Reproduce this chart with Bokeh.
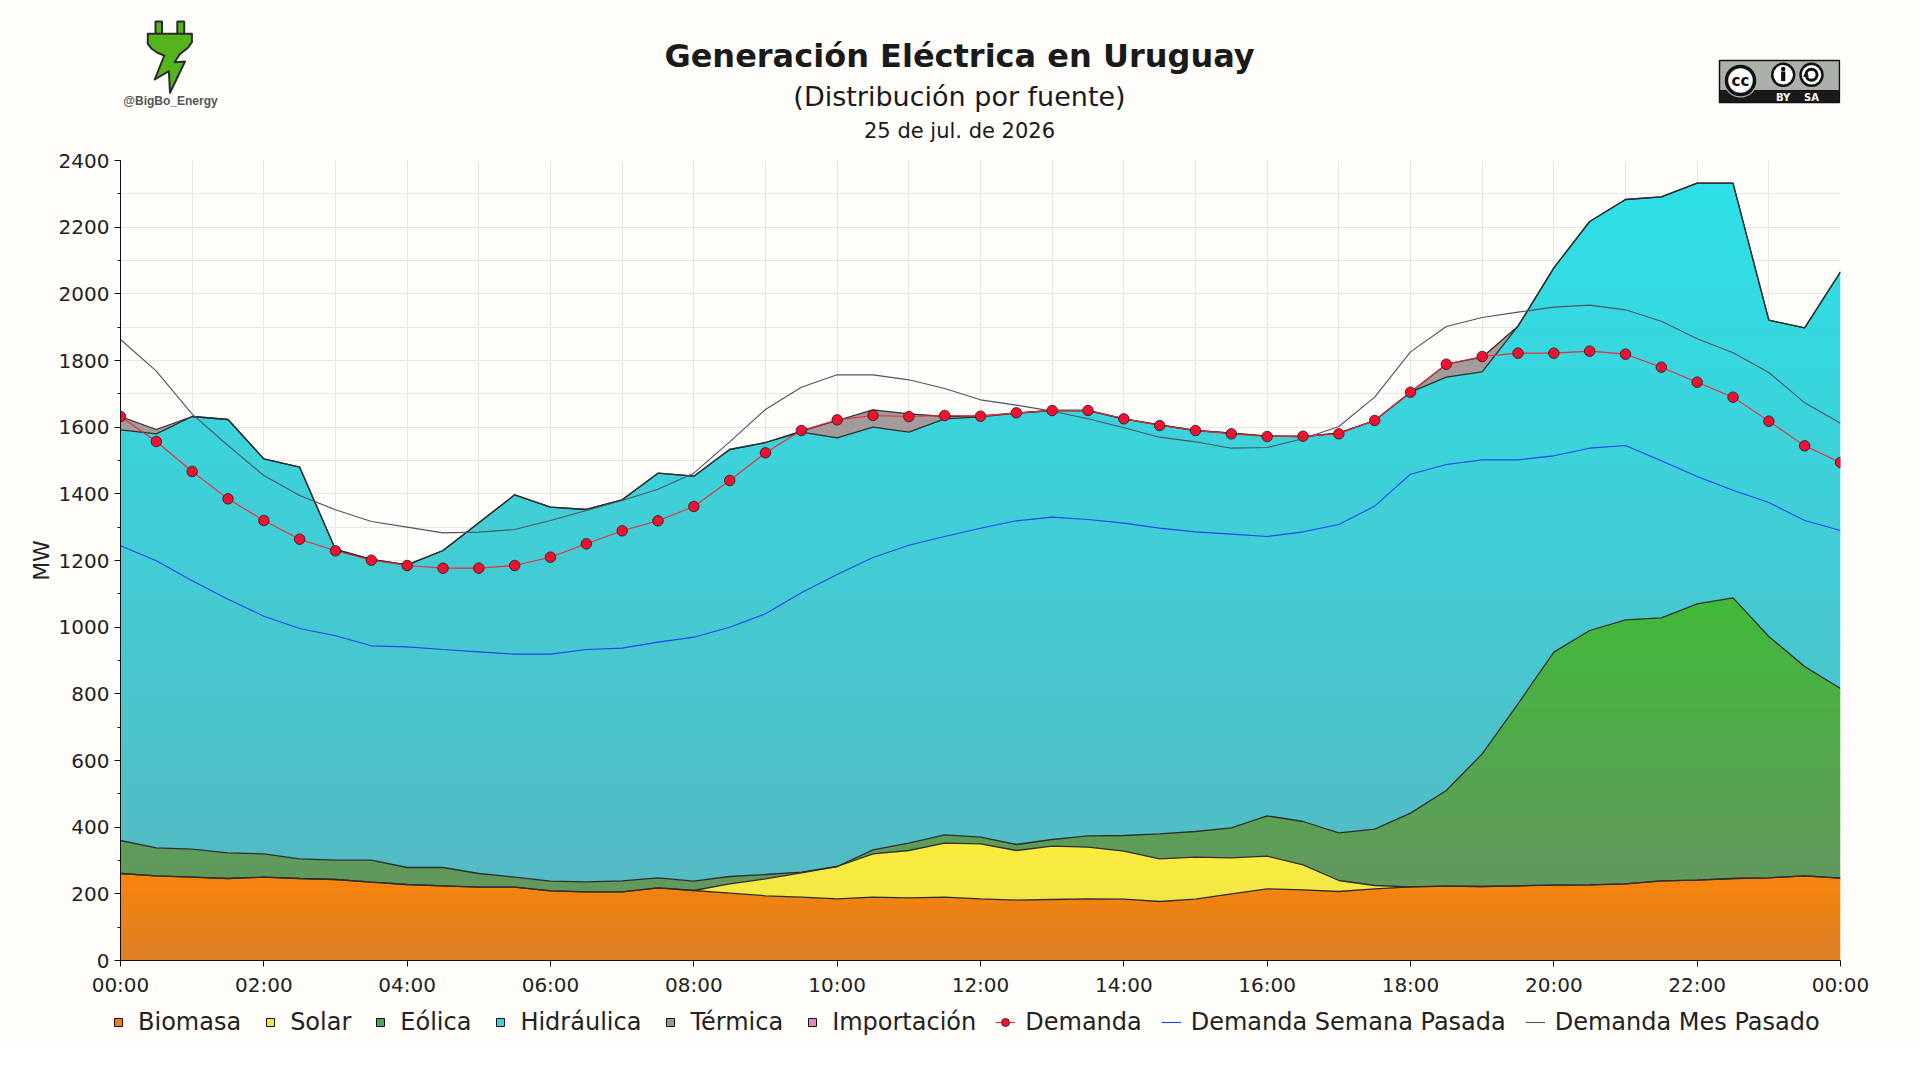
import numpy as np
from bokeh.plotting import figure
from bokeh.layouts import column, row
from bokeh.models import Range1d, FixedTicker, Legend, LegendItem
from bokeh.core.properties import value
from bokeh.embed import file_html
from bokeh.resources import INLINE

# ---------------- data (MW, every 30 min) ----------------
horas = ["00:00", "00:30", "01:00", "01:30", "02:00", "02:30", "03:00", "03:30",
         "04:00", "04:30", "05:00", "05:30", "06:00", "06:30", "07:00", "07:30",
         "08:00", "08:30", "09:00", "09:30", "10:00", "10:30", "11:00", "11:30",
         "12:00", "12:30", "13:00", "13:30", "14:00", "14:30", "15:00", "15:30",
         "16:00", "16:30", "17:00", "17:30", "18:00", "18:30", "19:00", "19:30",
         "20:00", "20:30", "21:00", "21:30", "22:00", "22:30", "23:00", "23:30",
         "24:00"]

biomasa = [261, 254, 250, 246, 250, 246, 243, 235, 228, 224, 220, 220, 209, 206, 206, 218,
           210, 202, 194, 190, 185, 190, 188, 190, 185, 181, 183, 185, 184, 177, 184, 200,
           215, 212, 207, 215, 221, 223, 222, 224, 226, 227, 230, 239, 241, 246, 248, 254, 247]
solar = [0, 0, 0, 0, 0, 0, 0, 0, 0, 0, 0, 0, 0, 0, 0, 0,
         0, 28, 51, 73, 97, 130, 142, 162, 165, 149, 160, 155, 144, 128, 126, 108,
         98, 75, 33, 10, 0, 0, 0, 0, 0, 0, 0, 0, 0, 0, 0, 0, 0]
eolica = [99, 84, 84, 77, 70, 59, 58, 66, 51, 55, 41, 30, 29, 30, 33, 30,
          28, 22, 13, 2, 0, 12, 22, 25, 20, 18, 20, 34, 47, 75, 77, 90,
          121, 130, 143, 169, 221, 287, 398, 546, 699, 763, 792, 789, 829, 842, 724, 628, 569]
hidraulica = [1232, 1242, 1298, 1300, 1185, 1175, 932, 902, 908, 951, 1052, 1147, 1122, 1117, 1143, 1214,
              1215, 1281, 1296, 1320, 1286, 1268, 1233, 1248, 1261, 1294, 1287, 1276, 1250, 1227, 1203, 1184,
              1139, 1155, 1199, 1226, 1263, 1240, 1146, 1133, 1153, 1227, 1261, 1263, 1262, 1244, 949, 1016, 1250]
termica = [40, 13, 0, 0, 0, 0, 0, 0, 0, 0, 0, 0, 0, 0, 0, 0,
           0, 0, 0, 3, 52, 52, 55, 7, 3, 0, 0, 0, 0, 0, 0, 0,
           0, 0, 0, 0, 0, 39, 44, 0, 0, 0, 0, 0, 0, 0, 0, 0, 0]
importacion = [0, 0, 0, 0, 0, 0, 0, 0, 0, 0, 0, 0, 0, 0, 0, 0,
               0, 0, 0, 0, 0, 0, 0, 0, 0, 0, 0, 0, 0, 0, 0, 0,
               0, 0, 0, 0, 0, 0, 0, 0, 0, 0, 0, 0, 0, 0, 0, 0, 0]
demanda = [1632, 1557, 1467, 1385, 1320, 1264, 1229, 1201, 1185, 1177, 1177, 1185, 1210, 1250, 1289, 1319,
           1362, 1440, 1523, 1590, 1622, 1635, 1632, 1635, 1633, 1643, 1650, 1650, 1625, 1605, 1590, 1580,
           1572, 1573, 1580, 1620, 1705, 1789, 1812, 1822, 1822, 1828, 1819, 1780, 1735, 1690, 1618, 1544, 1494]
semana_pasada = [1244, 1199, 1139, 1084, 1033, 996, 974, 944, 941, 933, 926, 919, 919, 933, 937, 955,
                 970, 1000, 1040, 1103, 1158, 1209, 1246, 1272, 1297, 1319, 1330, 1323, 1312, 1297, 1286, 1279,
                 1272, 1286, 1308, 1363, 1459, 1488, 1502, 1502, 1514, 1537, 1545, 1499, 1452, 1411, 1374, 1320, 1290]
mes_pasado = [1863, 1768, 1639, 1545, 1455, 1395, 1352, 1317, 1300, 1283, 1285, 1293, 1320, 1350, 1380, 1414,
              1462, 1556, 1653, 1720, 1757, 1757, 1742, 1716, 1682, 1666, 1648, 1625, 1598, 1570, 1556, 1537,
              1539, 1565, 1602, 1690, 1826, 1902, 1929, 1945, 1960, 1966, 1952, 1918, 1865, 1823, 1764, 1673, 1612]

x_ticks = [0, 2, 4, 6, 8, 10, 12, 14, 16, 18, 20, 22, 24]
x_tick_labels = ["00:00", "02:00", "04:00", "06:00", "08:00", "10:00", "12:00",
                 "14:00", "16:00", "18:00", "20:00", "22:00", "00:00"]
y_ticks = [0, 200, 400, 600, 800, 1000, 1200, 1400, 1600, 1800, 2000, 2200, 2400]

titulo = "Generación Eléctrica en Uruguay"
subtitulo = "(Distribución por fuente)"
fecha = "25 de jul. de 2026"

# ---------------- styles ----------------
BG = "#FEFDF9"
GRID = "#E8E6E1"
FONT = "DejaVu Sans"
capas = [
    # name, values, top colour, bottom colour, legend colour
    ("Biomasa", biomasa, "#F8840A", "#DD7F28", "#F0800F"),
    ("Solar", solar, "#FCEE3C", "#E8DD52", "#F4E93E"),
    ("Eólica", eolica, "#40BA38", "#6C8F68", "#56A050"),
    ("Hidráulica", hidraulica, "#2EE0E8", "#58B6BE", "#3CD0D8"),
    ("Térmica", termica, "#A39B9B", "#A39B9B", "#A09898"),
    ("Importación", importacion, "#EC84BC", "#EC84BC", "#EC84BC"),
]

X = np.array([int(h[:2]) + int(h[3:]) / 60 for h in horas])
n = len(X)


def hex2rgb(h):
    return np.array([int(h[i:i + 2], 16) for i in (1, 3, 5)], float)


def mix(c0, c1, t):
    c = hex2rgb(c0) + (hex2rgb(c1) - hex2rgb(c0)) * t
    return "#%02x%02x%02x" % tuple(int(round(v)) for v in c)


def banda(L, U, a, b):
    """Region between L and U restricted to a <= y <= b (exact for polylines)."""
    pts = [X]
    for f in (L, U):
        for e in (a, b):
            d = f - e
            idx = np.where(d[:-1] * d[1:] < 0)[0]
            if len(idx):
                t = d[idx] / (d[idx] - d[idx + 1])
                pts.append(X[idx] + t * (X[idx + 1] - X[idx]))
    xr = np.unique(np.concatenate(pts))
    lo = np.clip(np.interp(xr, X, L), a, b)
    hi = np.clip(np.interp(xr, X, U), a, b)
    return xr, lo, hi


# ---------------- layout numbers (page px) ----------------
W = 1920
BL, BR = 120, 80          # frame left / right borders
HEAD_H = 148
MAIN_H = 852              # 12 + 800 + 40
FOOT_H = 44

# ---------------- main figure ----------------
p = figure(width=W, height=MAIN_H, x_range=Range1d(0, 24), y_range=Range1d(0, 2400),
           output_backend="svg", toolbar_location=None, title=None,
           min_border_left=BL, min_border_right=BR, min_border_top=12, min_border_bottom=40,
           background_fill_color=BG, border_fill_color=BG, outline_line_color=None)

base = np.zeros(n)
tops = []
for name, vals, ctop, cbot, cleg in capas:
    top = base + np.array(vals, float)
    if ctop == cbot:
        p.varea(x=X, y1=base, y2=top, fill_color=ctop)
    else:
        ymax = top.max()
        step = 40.0
        a = 0.0
        while a < ymax:
            xr, lo, hi = banda(base, top, a, a + step + 4)
            if np.any(hi - lo > 0):
                col = mix(cbot, ctop, min((a + step / 2) / ymax, 1.0))
                p.varea(x=xr, y1=lo, y2=hi, fill_color=col)
            a += step
    tops.append(top)
    base = top

for top in tops[:5]:
    p.line(X, top, line_color="#2E2E2E", line_width=1.3)

C_MES, C_SEM, C_DEM_L, C_DEM = "#4F5464", "#1E46F0", "#F02A3C", "#F51030"
p.line(X, mes_pasado, line_color=C_MES, line_width=1.1)
p.line(X, semana_pasada, line_color=C_SEM, line_width=1.1)
p.line(X, demanda, line_color=C_DEM_L, line_width=1.1)
p.scatter(X, demanda, marker="circle", size=10.5, fill_color=C_DEM, line_color="#1A1A1A", line_width=0.8)

# axes
xa = p.xaxis[0]
xa.ticker = FixedTicker(ticks=x_ticks, minor_ticks=list(range(0, 25)))
xa.major_label_overrides = {t: lab for t, lab in zip(x_ticks, x_tick_labels)}
ya = p.yaxis[0]
ya.ticker = FixedTicker(ticks=y_ticks, minor_ticks=list(range(0, 2401, 100)))
ya.axis_label = "MW"
ya.axis_label_text_font = FONT
ya.axis_label_text_font_size = "22px"
ya.axis_label_text_font_style = "normal"
ya.axis_label_text_color = "#222222"
ya.axis_label_standoff = 2
ya.minor_tick_in = 0
ya.minor_tick_out = 3
for ax in (xa, ya):
    ax.major_label_text_font = FONT
    ax.major_label_text_font_size = "20px"
    ax.major_label_text_color = "#222222"
    ax.axis_line_color = "#111111"
    ax.major_tick_line_color = "#111111"
    ax.major_tick_in = 0
    ax.major_tick_out = 6
    ax.major_label_standoff = 5
ya.minor_tick_line_color = "#111111"
xa.minor_tick_line_color = None
xa.major_label_standoff = 6

for g in (p.xgrid[0], p.ygrid[0]):
    g.grid_line_color = GRID
    g.minor_grid_line_color = GRID
    g.grid_line_width = 1
    g.minor_grid_line_width = 1

# ---------------- header ----------------
h = figure(width=W, height=HEAD_H, x_range=Range1d(BL, W - BR), y_range=Range1d(HEAD_H, 0),
           output_backend="svg", toolbar_location=None, title=None,
           min_border_left=BL, min_border_right=BR, min_border_top=0, min_border_bottom=0,
           x_axis_location=None, y_axis_location=None,
           background_fill_color=BG, border_fill_color=BG, outline_line_color=None)
h.grid.grid_line_color = None

cx = 959
h.text(x=[cx], y=[55], text=[titulo], text_font=value(FONT), text_font_size="32px",
       text_font_style="bold", text_align="center", text_baseline="alphabetic",
       text_color="#1A1A1A")
h.text(x=[cx], y=[95.5], text=[subtitulo], text_font=value(FONT), text_font_size="27px",
       text_align="center", text_baseline="alphabetic", text_color="#1A1A1A")
h.text(x=[cx], y=[130.5], text=[fecha], text_font=value(FONT), text_font_size="21px",
       text_align="center", text_baseline="alphabetic", text_color="#1A1A1A")

# plug logo (top-left)
plug_x = [147.3, 191.4, 191.4, 187.5, 181.8, 179.1, 174.1, 184.5, 169.5, 168.4, 154.2, 163.8, 156.9, 151.2, 147.3]
plug_y = [33.3, 33.3, 41.7, 47.3, 51.7, 54.0, 61.7, 61.0, 92.3, 70.7, 79.0, 55.0, 52.3, 48.3, 43.3]
h.quad(left=[155, 176.8], right=[161.5, 183.7], top=[21, 21], bottom=[34, 34],
       fill_color="#55B31C", line_color="#2B2B2B", line_width=2)
h.patch(plug_x, plug_y, fill_color="#55B31C", line_color="#2B2B2B", line_width=2, line_join="round")
h.text(x=[170], y=[100.5], text=["@BigBo_Energy"], text_font=value("Liberation Sans"),
       text_font_size="12px", text_font_style="bold", text_align="center",
       text_baseline="alphabetic", text_color="#555555")

# CC BY-SA badge (top-right)
h.quad(left=[1719], right=[1839], top=[60], bottom=[102], fill_color="#ABB1AA",
       line_color="#111111", line_width=1.5)
h.quad(left=[1719], right=[1839], top=[90], bottom=[102], fill_color="#1A1A1A",
       line_color="#111111", line_width=1)
h.scatter(x=[1740], y=[80], marker="circle", size=34, fill_color="#ABB1AA", line_color=None)
h.scatter(x=[1740], y=[80], marker="circle", size=28, fill_color="#FFFFFF",
          line_color="#111111", line_width=3.5)
h.text(x=[1740], y=[80], text=["cc"], text_font=value("DejaVu Sans"), text_font_size="15px",
       text_font_style="bold", text_align="center", text_baseline="middle", text_color="#111111")
h.scatter(x=[1782.7, 1811], y=[74.3, 74.3], marker="circle", size=22, fill_color="#FFFFFF",
          line_color="#111111", line_width=2.5)
h.scatter(x=[1782.7], y=[68.5], marker="circle", size=4.5, fill_color="#111111", line_color=None)
h.quad(left=[1780.6], right=[1784.8], top=[71], bottom=[80.5], fill_color="#111111", line_color=None)
h.scatter(x=[1811], y=[74.3], marker="circle", size=11, fill_color=None,
          line_color="#111111", line_width=3)
h.scatter(x=[1805.5], y=[74.5], marker="triangle", size=6, fill_color="#111111", line_color=None)
h.text(x=[1782.7, 1811], y=[96.5, 96.5], text=["BY", "SA"], text_font=value("DejaVu Sans"),
       text_font_size="10px", text_font_style="bold", text_align="center",
       text_baseline="middle", text_color="#FFFFFF")

# ---------------- footer with legend ----------------
f = figure(width=W, height=FOOT_H, x_range=Range1d(0, 1), y_range=Range1d(0, 1),
           output_backend="svg", toolbar_location=None, title=None,
           min_border_left=0, min_border_right=0, min_border_top=0, min_border_bottom=0,
           x_axis_location=None, y_axis_location=None,
           background_fill_color=BG, border_fill_color=BG, outline_line_color=None)
f.grid.grid_line_color = None

items = []
for name, vals, ctop, cbot, cleg in capas:
    r = f.scatter(x=[np.nan], y=[np.nan], marker="square", size=15, fill_color=cleg,
                  line_color="#111111", line_width=1)
    items.append(LegendItem(label=name, renderers=[r]))
rl = f.line(x=[np.nan, np.nan], y=[np.nan, np.nan], line_color=C_DEM_L, line_width=1.1)
rs = f.scatter(x=[np.nan], y=[np.nan], marker="circle", size=10, fill_color=C_DEM,
               line_color="#1A1A1A", line_width=0.8)
items.append(LegendItem(label="Demanda", renderers=[rl, rs]))
r = f.line(x=[np.nan, np.nan], y=[np.nan, np.nan], line_color=C_SEM, line_width=1.1)
items.append(LegendItem(label="Demanda Semana Pasada", renderers=[r]))
r = f.line(x=[np.nan, np.nan], y=[np.nan, np.nan], line_color=C_MES, line_width=1.1)
items.append(LegendItem(label="Demanda Mes Pasado", renderers=[r]))

legend = Legend(items=items, orientation="horizontal", location=(105, 5),
                glyph_width=20, glyph_height=20, label_standoff=10, spacing=19,
                padding=3, margin=0, label_text_font=FONT, label_text_font_size="24px",
                label_text_color="#222222", background_fill_alpha=0, border_line_alpha=0)
f.add_layout(legend)

layout = column(h, p, row(f), spacing=0)
html = file_html(layout, INLINE, "Generación Eléctrica en Uruguay")
html = html.replace("<body>", '<body style="background-color:%s;">' % BG, 1)
open("out.html", "w").write(html)
